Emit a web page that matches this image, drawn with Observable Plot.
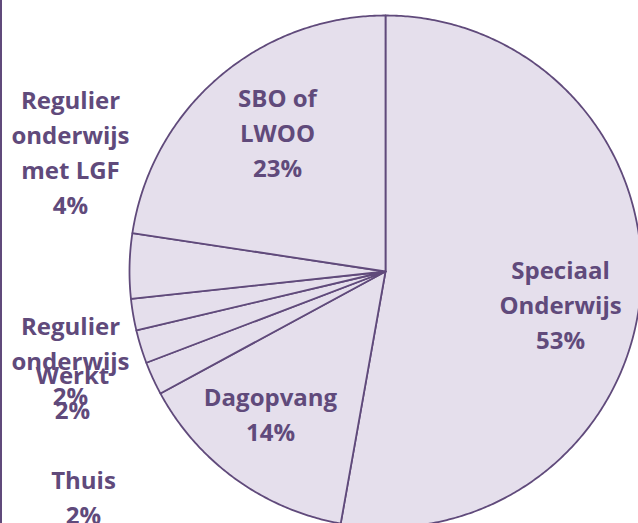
<!DOCTYPE html>
<html>
<head>
<meta charset="utf-8">
<script src="https://cdn.jsdelivr.net/npm/d3@7"></script>
<script src="https://cdn.jsdelivr.net/npm/@observablehq/plot@0.6"></script>
<style>
  html, body { margin: 0; padding: 0; background: #ffffff; }
  #chart svg { display: block; }
</style>
</head>
<body>
<div id="chart"></div>
<script>
// ---- data ----
const categories = ["Speciaal Onderwijs", "Dagopvang", "Thuis", "Werkt", "Regulier onderwijs", "Regulier onderwijs met LGF", "SBO of LWOO"];
const values = [52.8, 14.3, 2.1, 2.1, 2.0, 4.1, 22.6];
const labelNames = ["Speciaal\nOnderwijs", "Dagopvang", "Thuis", "Werkt", "Regulier\nonderwijs", "Regulier\nonderwijs\nmet LGF", "SBO of\nLWOO"];

// ---- layout (label anchors relative to pie centre, chart units) ----
const labelAnchor = {
  "Speciaal Onderwijs": [175, 31.5],
  "Dagopvang": [-115, 140.5],
  "Thuis": [-302, 223.5],
  "Werkt": [-313, 119],
  "Regulier onderwijs": [-315, 87],
  "Regulier onderwijs met LGF": [-315, -121],
  "SBO of LWOO": [-108, -140.5]
};

const W = 638, H = 523, CX = 385, CY = 271, R = 256;
const fillColor = "#e5dfec";
const lineColor = "#604a7b";

const arcs = d3.pie().sort(null).value(d => d)(values);
const slicePts = [];
arcs.forEach((a, i) => {
  slicePts.push({slice: categories[i], x: 0, y: 0});
  const n = Math.max(2, Math.ceil((a.endAngle - a.startAngle) / (Math.PI / 360)));
  for (let k = 0; k <= n; k++) {
    const t = a.startAngle + (a.endAngle - a.startAngle) * k / n;
    slicePts.push({slice: categories[i], x: R * Math.sin(t), y: -R * Math.cos(t)});
  }
});

const labels = categories.map((c, i) => ({
  text: labelNames[i] + "\n" + Math.round(values[i]) + "%",
  x: labelAnchor[c][0],
  y: labelAnchor[c][1]
}));

const chart = Plot.plot({
  width: W,
  height: H,
  margin: 0,
  x: {domain: [-CX, W - CX], range: [0, W], axis: null},
  y: {domain: [-CY, H - CY], range: [0, H], axis: null},
  style: {fontFamily: "'Open Sans', sans-serif", background: "#ffffff"},
  marks: [
    Plot.line(slicePts, {x: "x", y: "y", z: "slice", curve: "linear-closed",
      fill: fillColor, stroke: lineColor, strokeWidth: 1.8, strokeLinejoin: "round"}),
    Plot.ruleX([-CX], {stroke: lineColor, strokeWidth: 3}),
    Plot.text(labels, {x: "x", y: "y", text: "text", fill: lineColor,
      fontSize: 24, fontWeight: "bold", lineHeight: 1.46, lineAnchor: "middle", textAnchor: "middle"})
  ]
});
document.getElementById("chart").appendChild(chart);
</script>
</body>
</html>
